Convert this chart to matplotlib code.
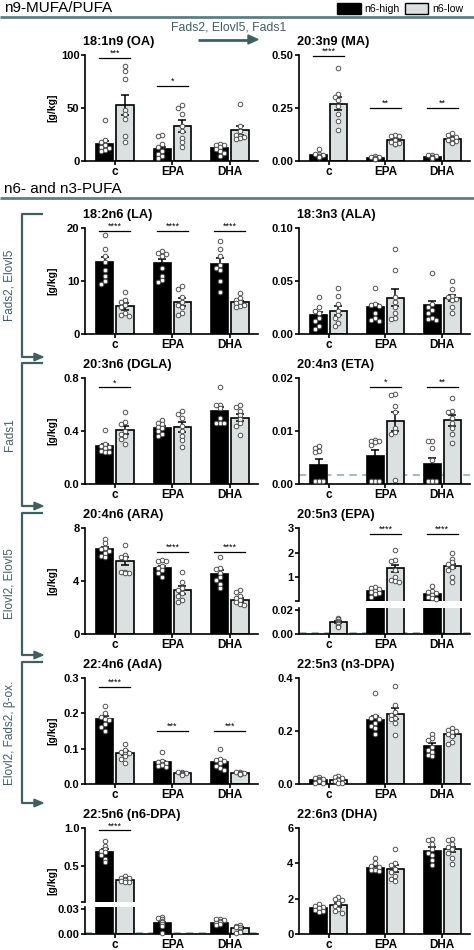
import numpy as np
import matplotlib.pyplot as plt
from matplotlib.lines import Line2D
from matplotlib.patches import Rectangle, Polygon

plt.rcParams['font.family'] = ['Liberation Sans', 'DejaVu Sans']

W, H = 474, 950
TEAL = '#3f5f63'
RULE = '#5f7e83'
LIGHT = '#dbe1e1'
DASH = '#9db4b9'

groups = ['c', 'EPA', 'DHA']
series = ['n6-high', 'n6-low']

# ---- data: [n6-high, n6-low] x [c, EPA, DHA] ----
# 18:1n9 (OA)
oa_mean = [[16, 11.5, 12], [53, 33, 29]]
oa_sem = [[3, 2, 1.5], [9.5, 5.5, 4]]
oa_high = [[39, 20, 18, 15, 13, 12, 10, 9], [25, 24, 16, 13, 9, 7, 5, 3], [16, 15, 15, 13, 11, 9, 8, 5]]
oa_low = [[90, 85, 77, 48, 44, 40, 24, 18], [53, 50, 44, 33, 28, 22, 18, 13], [54, 33, 28, 25, 24, 23, 22, 21]]
oa_sig = [(0, '***', 97), (1, '*', 71)]

# 20:3n9 (MA)
ma_mean = [[0.030, 0.015, 0.020], [0.27, 0.10, 0.105]]
ma_sem = [[0.005, 0.002, 0.003], [0.03, 0.01, 0.006]]
ma_high = [[0.055, 0.035, 0.032, 0.028, 0.025, 0.022, 0.02, 0.018], [0.022, 0.02, 0.018, 0.016, 0.014, 0.012, 0.01, 0.008], [0.03, 0.027, 0.024, 0.02, 0.018, 0.016, 0.014, 0.012]]
ma_low = [[0.44, 0.315, 0.30, 0.29, 0.26, 0.22, 0.19, 0.145], [0.125, 0.12, 0.118, 0.10, 0.09, 0.085, 0.08, 0.08], [0.13, 0.125, 0.115, 0.105, 0.10, 0.095, 0.09, 0.085]]
ma_sig = [(0, '****', 0.495), (1, '**', 0.25), (2, '**', 0.25)]

# 18:2n6 (LA)
la_mean = [[13.5, 13.4, 13.2], [5.2, 6.0, 6.0]]
la_sem = [[1.0, 0.8, 1.1], [0.6, 0.7, 0.3]]
la_high = [[18.6, 16.0, 14.8, 13.5, 12.0, 11.0, 10.0, 9.5], [15.6, 15.2, 15.0, 14.8, 12.5, 11.0, 10.2, 9.8], [17.5, 16.0, 14.8, 13.0, 12.5, 12.0, 10.0, 8.0]]
la_low = [[8.0, 6.5, 6.0, 5.5, 5.0, 4.0, 3.5, 3.4], [9.0, 8.5, 7.0, 6.0, 5.5, 5.0, 4.0, 3.5], [7.8, 6.8, 6.5, 6.0, 5.8, 5.5, 5.2, 5.0]]
la_sig = [(0, '****', 19.5), (1, '****', 19.5), (2, '****', 19.5)]

# 18:3n3 (ALA)
ala_mean = [[0.018, 0.025, 0.027], [0.022, 0.034, 0.034]]
ala_sem = [[0.003, 0.003, 0.004], [0.004, 0.008, 0.003]]
ala_high = [[0.035, 0.025, 0.022, 0.02, 0.015, 0.012, 0.008, 0.005], [0.043, 0.028, 0.027, 0.026, 0.02, 0.015, 0.013, 0.012], [0.058, 0.028, 0.025, 0.023, 0.02, 0.015, 0.014, 0.013]]
ala_low = [[0.043, 0.036, 0.028, 0.022, 0.018, 0.015, 0.01, 0.008], [0.08, 0.06, 0.035, 0.03, 0.025, 0.02, 0.015, 0.014], [0.05, 0.042, 0.036, 0.035, 0.033, 0.032, 0.025, 0.02]]
ala_sig = []

# 20:3n6 (DGLA)
dgla_mean = [[0.29, 0.42, 0.55], [0.41, 0.43, 0.50]]
dgla_sem = [[0.015, 0.015, 0.03], [0.03, 0.04, 0.025]]
dgla_high = [[0.41, 0.30, 0.29, 0.28, 0.27, 0.25, 0.24, 0.24], [0.48, 0.46, 0.45, 0.43, 0.42, 0.40, 0.38, 0.36], [0.73, 0.60, 0.60, 0.57, 0.50, 0.46, 0.46, 0.46]]
dgla_low = [[0.54, 0.47, 0.45, 0.40, 0.38, 0.36, 0.34, 0.30], [0.55, 0.53, 0.50, 0.44, 0.40, 0.36, 0.33, 0.28], [0.60, 0.58, 0.55, 0.52, 0.49, 0.46, 0.44, 0.37]]
dgla_sig = [(0, '*', 0.73)]

# 20:4n3 (ETA)
eta_mean = [[0.0036, 0.0052, 0.0038], [None, 0.0118, 0.0120]]
eta_sem = [[0.0011, 0.0013, 0.0012], [None, 0.0018, 0.001]]
eta_high = [[0.0072, 0.0067, 0.0062, 0.0060, 0.0006, 0.0006, 0.0006, 0.0006], [0.0083, 0.0082, 0.0082, 0.0079, 0.0073, 0.0006, 0.0006, 0.0006], [0.0082, 0.0082, 0.0067, 0.0045, 0.0006, 0.0006, 0.0006, 0.0006]]
eta_low = [[], [0.0170, 0.0168, 0.0148, 0.0135, 0.0105, 0.0098, 0.0095, 0.0008], [0.0162, 0.0137, 0.0135, 0.0125, 0.0115, 0.0105, 0.0095, 0.0078]]
eta_sig = [(1, '*', 0.0183), (2, '**', 0.0183)]
eta_lod = 0.0017

# 20:4n6 (ARA)
ara_mean = [[6.4, 5.0, 4.5], [5.5, 3.3, 2.6]]
ara_sem = [[0.2, 0.15, 0.3], [0.3, 0.3, 0.15]]
ara_high = [[7.2, 6.9, 6.5, 6.4, 6.3, 6.1, 5.9, 5.8], [5.6, 5.5, 5.5, 5.1, 5.0, 4.8, 4.6, 4.3], [5.8, 5.0, 4.9, 4.6, 4.3, 4.1, 3.8, 3.5]]
ara_low = [[6.7, 6.0, 5.8, 5.7, 4.7, 4.7, 4.6, 4.6], [4.7, 3.9, 3.5, 3.3, 3.1, 2.9, 2.6, 2.4], [3.3, 3.2, 2.9, 2.7, 2.6, 2.4, 2.3, 2.2]]
ara_sig = [(1, '****', 6.2), (2, '****', 6.2)]

# 20:5n3 (EPA), broken axis
epa_mean = [[None, 0.42, 0.32], [0.010, 1.35, 1.45]]
epa_sem = [[None, 0.04, 0.05], [0.001, 0.16, 0.1]]
epa_high = [[], [0.6, 0.55, 0.52, 0.45, 0.4, 0.35, 0.3, 0.2], [0.65, 0.42, 0.38, 0.35, 0.28, 0.2, 0.15, 0.1]]
epa_low = [[0.013, 0.012, 0.011, 0.010, 0.009, 0.008, 0.007, 0.006], [2.1, 1.7, 1.65, 1.3, 1.0, 0.9, 0.85, 0.8], [2.0, 1.75, 1.6, 1.55, 1.4, 1.3, 1.0, 0.8]]
epa_sig = [(1, '****', 2.75), (2, '****', 2.75)]
epa_lod = 0.0006

# 22:4n6 (AdA)
ada_mean = [[0.185, 0.062, 0.063], [0.088, 0.030, 0.030]]
ada_sem = [[0.008, 0.004, 0.006], [0.005, 0.002, 0.002]]
ada_high = [[0.22, 0.20, 0.19, 0.185, 0.18, 0.17, 0.16, 0.15], [0.09, 0.065, 0.063, 0.06, 0.058, 0.055, 0.05, 0.047], [0.10, 0.07, 0.068, 0.065, 0.06, 0.05, 0.045, 0.04]]
ada_low = [[0.113, 0.095, 0.09, 0.088, 0.085, 0.08, 0.07, 0.06], [0.035, 0.033, 0.032, 0.03, 0.028, 0.027, 0.026], [0.035, 0.034, 0.032, 0.03, 0.029, 0.028, 0.027]]
ada_sig = [(0, '****', 0.274), (1, '***', 0.15), (2, '***', 0.15)]

# 22:5n3 (n3-DPA)
n3dpa_mean = [[0.016, 0.243, 0.143], [0.016, 0.265, 0.19]]
n3dpa_sem = [[0.002, 0.015, 0.01], [0.003, 0.02, 0.007]]
n3dpa_high = [[0.025, 0.022, 0.02, 0.018, 0.015, 0.01, 0.005, 0.004], [0.345, 0.255, 0.25, 0.245, 0.23, 0.22, 0.21, 0.19], [0.19, 0.175, 0.165, 0.14, 0.13, 0.12, 0.11, 0.105]]
n3dpa_low = [[0.03, 0.025, 0.022, 0.018, 0.014, 0.01, 0.005, 0.004], [0.37, 0.30, 0.27, 0.26, 0.25, 0.245, 0.23, 0.185], [0.21, 0.205, 0.20, 0.195, 0.19, 0.18, 0.16, 0.15]]
n3dpa_sig = []

# 22:5n6 (n6-DPA), broken axis
n6dpa_mean = [[0.69, 0.0135, 0.0135], [0.32, None, 0.007]]
n6dpa_sem = [[0.03, 0.001, 0.001], [0.01, None, 0.001]]
n6dpa_high = [[0.83, 0.77, 0.72, 0.70, 0.68, 0.65, 0.60, 0.56], [0.02, 0.019, 0.018, 0.016, 0.014, 0.012, 0.01, 0.001], [0.018, 0.018, 0.017, 0.016, 0.014, 0.013, 0.012, 0.011]]
n6dpa_low = [[0.37, 0.35, 0.34, 0.33, 0.32, 0.31, 0.30, 0.29], [], [0.011, 0.010, 0.009, 0.008, 0.006, 0.004, 0.002, 0.001]]
n6dpa_sig = [(0, '****', 0.97)]
n6dpa_lod = 0.001

# 22:6n3 (DHA)
dha_mean = [[1.45, 3.75, 4.7], [1.65, 3.7, 4.8]]
dha_sem = [[0.07, 0.08, 0.2], [0.12, 0.18, 0.15]]
dha_high = [[1.7, 1.6, 1.55, 1.5, 1.45, 1.35, 1.3, 1.25], [4.3, 4.0, 3.85, 3.8, 3.7, 3.65, 3.6, 3.55], [5.35, 5.3, 5.1, 4.8, 4.6, 4.5, 4.2, 3.9]]
dha_low = [[2.1, 2.0, 1.9, 1.75, 1.6, 1.4, 1.3, 1.2], [4.8, 4.0, 3.9, 3.7, 3.5, 3.3, 3.1, 3.0], [5.35, 5.3, 5.1, 4.95, 4.8, 4.6, 4.3, 3.95]]
dha_sig = []

# ---- figure ----
fig = plt.figure(figsize=(W / 100, H / 100), dpi=100)
OFF = [-0.175, 0.175]
FILL = ['black', LIGHT]


def fx(x):
    return x / W


def fy(y):
    return 1 - y / H


def line(xs, ys, color, lw):
    fig.add_artist(Line2D([fx(v) for v in xs], [fy(v) for v in ys], color=color, lw=lw,
                          solid_capstyle='butt'))


def head(x, y, color, ln=9, hw=4):
    fig.add_artist(Polygon([[fx(x), fy(y)], [fx(x - ln), fy(y - hw)], [fx(x - ln), fy(y + hw)]],
                           closed=True, color=color, transform=fig.transFigure))


def spread(vals, thr):
    vals = np.asarray(vals, float)
    xs = np.zeros(len(vals))
    for i, v in enumerate(vals):
        near = [xs[j] for j in range(i) if abs(vals[j] - v) < thr]
        for cand in (0, -0.07, 0.07, -0.12, 0.12, -0.035, 0.035, -0.105, 0.105):
            if all(abs(cand - u) > 0.05 for u in near):
                xs[i] = cand
                break
    return xs


def make_ax(x0, x1, top, bot, bottom_axis=True):
    ax = fig.add_axes([fx(x0), fy(bot), (x1 - x0) / W, (bot - top) / H])
    ax.patch.set_alpha(0)
    for s in ('top', 'right'):
        ax.spines[s].set_visible(False)
    for s in ('left', 'bottom'):
        ax.spines[s].set_linewidth(1.2)
    ax.tick_params(width=1.2, length=3, labelsize=8, pad=1)
    ax.set_xlim(-0.52, 2.49)
    if bottom_axis:
        ax.set_xticks(range(3))
        ax.set_xticklabels(groups, fontweight='bold', fontsize=8.5)
        ax.tick_params(axis='x', pad=0.5)
    else:
        ax.spines['bottom'].set_visible(False)
        ax.set_xticks([])
    return ax


def draw_data(ax, mean, sem, pts_h, pts_l, lim, clip):
    span = lim[1] - lim[0]
    for s, pts in enumerate((pts_h, pts_l)):
        for g in range(3):
            x = g + OFF[s]
            m = mean[s][g]
            if m is not None and m > lim[0]:
                ax.bar(x, m, width=0.3, color=FILL[s], edgecolor='black', lw=1.2, zorder=2)
                if not clip or m <= lim[1]:
                    ax.errorbar(x, m, yerr=sem[s][g], fmt='none', ecolor='black', elinewidth=1.1,
                                capsize=3, capthick=1.1, zorder=3)
            p = np.asarray(pts[g], float)
            if clip:
                p = p[(p >= lim[0]) & (p <= lim[1])]
            if len(p):
                ax.plot(x + spread(p, span * 0.035), p, 'o', ms=3.3, mfc='white',
                        mec='#505050', mew=0.7, zorder=4, clip_on=False)


def draw_sig(ax, sig):
    for g, stars, y in sig:
        ax.plot([g - 0.27, g + 0.27], [y, y], color='black', lw=0.9, clip_on=False, zorder=5)
        ax.text(g, y, stars, ha='center', va='bottom', fontsize=6.5, clip_on=False)


def set_y(ax, lim, ticks, labels):
    ax.set_ylim(*lim)
    ax.set_yticks(ticks)
    ax.set_yticklabels(labels, fontweight='bold')


COLS = [(85, 258), (299, 470)]
TOPS = [55, 228, 378, 528, 678, 828]
HGT = 106
TITLE_X = [83, 297]

panels = [
    ('18:1n9 (OA)', 0, 0, oa_mean, oa_sem, oa_high, oa_low, oa_sig, (0, 100), [0, 50, 100], ['0', '50', '100'], None),
    ('20:3n9 (MA)', 0, 1, ma_mean, ma_sem, ma_high, ma_low, ma_sig, (0, 0.5), [0, 0.25, 0.5], ['0.00', '0.25', '0.50'], None),
    ('18:2n6 (LA)', 1, 0, la_mean, la_sem, la_high, la_low, la_sig, (0, 20), [0, 10, 20], ['0', '10', '20'], None),
    ('18:3n3 (ALA)', 1, 1, ala_mean, ala_sem, ala_high, ala_low, ala_sig, (0, 0.1), [0, 0.05, 0.1], ['0.00', '0.05', '0.10'], None),
    ('20:3n6 (DGLA)', 2, 0, dgla_mean, dgla_sem, dgla_high, dgla_low, dgla_sig, (0, 0.8), [0, 0.4, 0.8], ['0.0', '0.4', '0.8'], None),
    ('20:4n3 (ETA)', 2, 1, eta_mean, eta_sem, eta_high, eta_low, eta_sig, (0, 0.02), [0, 0.01, 0.02], ['0.00', '0.01', '0.02'], eta_lod),
    ('20:4n6 (ARA)', 3, 0, ara_mean, ara_sem, ara_high, ara_low, ara_sig, (0, 8), [0, 4, 8], ['0', '4', '8'], None),
    ('22:4n6 (AdA)', 4, 0, ada_mean, ada_sem, ada_high, ada_low, ada_sig, (0, 0.3), [0, 0.1, 0.2, 0.3], ['0.0', '0.1', '0.2', '0.3'], None),
    ('22:5n3 (n3-DPA)', 4, 1, n3dpa_mean, n3dpa_sem, n3dpa_high, n3dpa_low, n3dpa_sig, (0, 0.4), [0, 0.2, 0.4], ['0.0', '0.2', '0.4'], None),
    ('22:6n3 (DHA)', 5, 1, dha_mean, dha_sem, dha_high, dha_low, dha_sig, (0, 6), [0, 2, 4, 6], ['0', '2', '4', '6'], None),
]

for title, r, c, mean, sem, ph, pl, sig, lim, ticks, labels, lod in panels:
    top = TOPS[r]
    ax = make_ax(*COLS[c], top, top + HGT)
    set_y(ax, lim, ticks, labels)
    draw_data(ax, mean, sem, ph, pl, lim, False)
    draw_sig(ax, sig)
    if lod is not None:
        ax.axhline(lod, color=DASH, ls=(0, (4, 3)), lw=1.3, zorder=1)

# broken-axis panels: (title, row, col, data..., upper spec, lower spec)
broken = [
    ('20:5n3 (EPA)', 3, 1, epa_mean, epa_sem, epa_high, epa_low, epa_sig, epa_lod,
     (528, 601, (0.025, 3.0), [0.025, 1, 2, 3], ['', '1', '2', '3']),
     (608, 634, (0, 0.0215), [0, 0.02], ['0.00', '0.02'])),
    ('22:5n6 (n6-DPA)', 5, 0, n6dpa_mean, n6dpa_sem, n6dpa_high, n6dpa_low, n6dpa_sig, n6dpa_lod,
     (828, 902, (0.032, 1.0), [0.032, 0.5, 1.0], ['', '0.5', '1.0']),
     (907, 934, (0, 0.0325), [0, 0.03], ['0.00', '0.03'])),
]

for title, r, c, mean, sem, ph, pl, sig, lod, up, lo in broken:
    axu = make_ax(*COLS[c], up[0], up[1], bottom_axis=False)
    set_y(axu, up[2], up[3], up[4])
    draw_data(axu, mean, sem, ph, pl, up[2], True)
    draw_sig(axu, sig)
    axl = make_ax(*COLS[c], lo[0], lo[1])
    set_y(axl, lo[2], lo[3], lo[4])
    draw_data(axl, mean, sem, ph, pl, lo[2], True)
    axl.axhline(lod, color=DASH, ls=(0, (4, 3)), lw=1.3, zorder=1)
    panels.append((title, r, c) + (None,) * 9)

# titles and y labels
for p in panels:
    title, r, c = p[:3]
    top = TOPS[r]
    fig.text(fx(TITLE_X[c]), fy(top - 13), title, fontweight='bold', fontsize=9.2, ha='left', va='center')
    if c == 0:
        fig.text(fx(52), fy(top + HGT / 2), '[g/kg]', rotation=90, fontweight='bold', fontsize=7.5,
                 ha='center', va='center')

# section headers
fig.text(fx(4), fy(8.5), 'n9-MUFA/PUFA', fontsize=11, ha='left', va='center')
line([0, W], [17, 17], RULE, 2)
fig.text(fx(4), fy(189), 'n6- and n3-PUFA', fontsize=11, ha='left', va='center')
line([0, W], [197.5, 197.5], RULE, 2)

# legend
fig.add_artist(Rectangle((fx(337), fy(13.5)), 24 / W, 10.5 / H, facecolor=FILL[0], edgecolor='black', lw=1,
                         transform=fig.transFigure))
fig.text(fx(364), fy(8.5), series[0], fontsize=7.6, ha='left', va='center')
fig.add_artist(Rectangle((fx(405), fy(13.5)), 23 / W, 10.5 / H, facecolor=FILL[1], edgecolor='black', lw=1,
                         transform=fig.transFigure))
fig.text(fx(432), fy(8.5), series[1], fontsize=7.6, ha='left', va='center')

# pathway arrow on top
fig.text(fx(229), fy(27), 'Fads2, Elovl5, Fads1', color=TEAL, fontsize=8.8, ha='center', va='center')
line([198, 250], [39.5, 39.5], TEAL, 2)
head(258, 39.5, TEAL, ln=10, hw=4.5)

# enzyme brackets at left side
brackets = [(214, 357, 'Fads2, Elovl5'), (363, 506, 'Fads1'),
            (513, 655, 'Elovl2, Elovl5'), (662, 803, 'Elovl2, Fads2, β-ox.')]
for top, bot, label in brackets:
    line([43, 22, 22, 36], [top, top, bot, bot], TEAL, 1.6)
    head(43, bot, TEAL, ln=9, hw=3.8)
    fig.text(fx(10), fy((top + bot) / 2), label, color=TEAL, fontsize=8.5, rotation=90,
             ha='center', va='center')

fig.savefig('out.png', dpi=100)
